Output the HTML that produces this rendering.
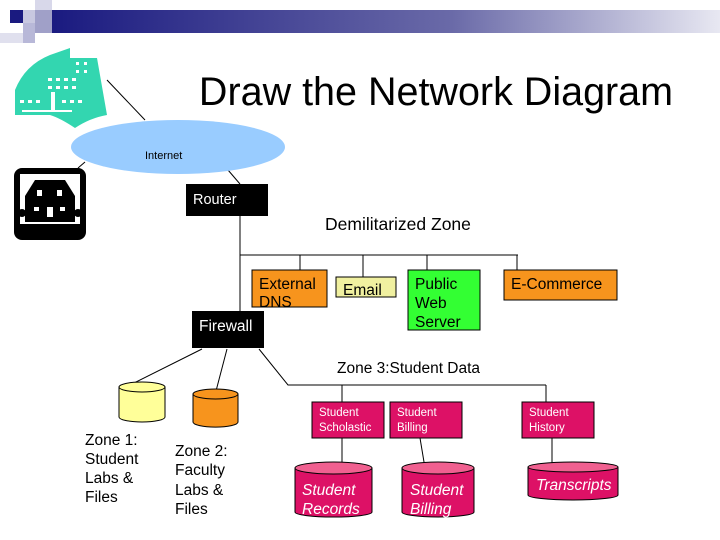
<!DOCTYPE html><html><head><style>body{margin:0;background:#fff}svg{display:block}text{font-family:"Liberation Sans",sans-serif}</style></head><body>
<svg width="720" height="540" viewBox="0 0 720 540">
<defs><linearGradient id="g" x1="0" x2="1"><stop offset="0" stop-color="#1a1a80"/><stop offset="0.6" stop-color="#6a6aa8"/><stop offset="1" stop-color="#e8e8f2"/></linearGradient></defs>
<rect x="50" y="10" width="670" height="23" fill="url(#g)"/>
<rect x="10" y="10" width="13" height="13" fill="#1a1a80"/>
<rect x="23" y="10" width="12" height="13" fill="#c8c8e0"/>
<rect x="35" y="0" width="17" height="10" fill="#d8d8ea"/>
<rect x="35" y="10" width="17" height="23" fill="#a0a0c8"/>
<rect x="23" y="23" width="12" height="20" fill="#b8b8d8"/>
<rect x="0" y="33" width="23" height="10" fill="#e0e0ee"/>
<!-- building -->
<path d="M15,90 Q25,65 50,55 L70,48 L70,58 L97,58 L107,115 Q90,118 75,128 Q60,118 50,115 L15,115 Z" fill="#33d6b0"/>
<g fill="#fff"><rect x="48" y="78" width="4" height="3"/><rect x="56" y="78" width="4" height="3"/><rect x="64" y="78" width="4" height="3"/><rect x="72" y="78" width="4" height="3"/><rect x="48" y="86" width="4" height="3"/><rect x="56" y="86" width="4" height="3"/><rect x="64" y="86" width="4" height="3"/><rect x="72" y="86" width="4" height="3"/><rect x="76" y="62" width="3" height="3"/><rect x="84" y="62" width="3" height="3"/><rect x="76" y="70" width="3" height="3"/><rect x="84" y="70" width="3" height="3"/><rect x="20" y="100" width="4" height="3"/><rect x="28" y="100" width="4" height="3"/><rect x="36" y="100" width="4" height="3"/><rect x="62" y="100" width="4" height="3"/><rect x="70" y="100" width="4" height="3"/><rect x="78" y="100" width="4" height="3"/><rect x="51" y="92" width="4" height="18"/><rect x="22" y="110" width="50" height="2"/></g>
<text x="436" y="105" font-size="39.5" text-anchor="middle">Draw the Network Diagram</text>
<g stroke="#000" stroke-width="1"><line x1="107" y1="80" x2="145" y2="120"/><line x1="85" y1="162" x2="78" y2="168"/><line x1="228" y1="170" x2="240" y2="184"/></g>
<ellipse cx="178" cy="147" rx="107" ry="27" fill="#99ccff"/>
<text x="145" y="159" font-size="11">Internet</text>
<!-- house -->
<rect x="14" y="168" width="72" height="72" rx="8" fill="#000"/>
<rect x="20" y="174" width="60" height="50" fill="#fff"/>
<polygon points="25,196 35,180 65,180 75,196 75,222 25,222" fill="#000"/>
<g fill="#fff"><rect x="37" y="190" width="5" height="6"/><rect x="57" y="190" width="5" height="6"/><rect x="34" y="207" width="5" height="4"/><rect x="60" y="207" width="5" height="4"/><rect x="47" y="207" width="6" height="10"/></g>
<circle cx="22" cy="213" r="4" fill="#000"/><circle cx="78" cy="213" r="4" fill="#000"/>
<rect x="186" y="184" width="82" height="32" fill="#000"/><text x="193" y="204" font-size="14.5" fill="#fff">Router</text>
<text x="325" y="230" font-size="17.5">Demilitarized Zone</text>
<g stroke="#000" fill="none"><polyline points="240,216 240,311"/><line x1="240" y1="255" x2="518" y2="255"/><line x1="300" y1="255" x2="300" y2="270"/><line x1="363" y1="255" x2="363" y2="277"/><line x1="427" y1="255" x2="427" y2="270"/><line x1="517" y1="255" x2="517" y2="270"/>
<line x1="202" y1="349" x2="120" y2="390"/><line x1="227" y1="349" x2="216" y2="391"/><polyline points="259,349 288,385 546,385"/><line x1="342" y1="385" x2="342" y2="402"/><line x1="546" y1="385" x2="546" y2="402"/>
<line x1="342" y1="438" x2="342" y2="468"/><line x1="420" y1="438" x2="425" y2="468"/><line x1="552" y1="438" x2="552" y2="465"/></g>
<rect x="252" y="270" width="75" height="37" fill="#f7941d" stroke="#000"/><text x="259" y="289" font-size="15.5">External</text><text x="259" y="307" font-size="15.5">DNS</text>
<rect x="336" y="277" width="60" height="20" fill="#f0f0a0" stroke="#000"/><text x="343" y="295" font-size="15.5">Email</text>
<rect x="408" y="270" width="72" height="60" fill="#33ff33" stroke="#000"/><text x="415" y="289" font-size="15.5">Public</text><text x="415" y="308" font-size="15.5">Web</text><text x="415" y="327" font-size="15.5">Server</text>
<rect x="504" y="270" width="113" height="30" fill="#f7941d" stroke="#000"/><text x="511" y="289" font-size="15.5">E-Commerce</text>
<rect x="192" y="311" width="72" height="37" fill="#000"/><text x="199" y="331" font-size="15.5" fill="#fff">Firewall</text>
<text x="337" y="373" font-size="15.5">Zone 3:Student Data</text>
<!-- cylinders left -->
<path d="M119,387 v30 a23,5 0 0 0 46,0 v-30" fill="#ffff99" stroke="#000"/><ellipse cx="142" cy="387" rx="23" ry="5" fill="#ffff99" stroke="#000"/>
<path d="M193,394 v28 a22,5 0 0 0 45,0 v-28" fill="#f7941d" stroke="#000"/><ellipse cx="215.5" cy="394" rx="22.5" ry="5" fill="#f7941d" stroke="#000"/>
<g font-size="15.5"><text x="85" y="445">Zone 1:</text><text x="85" y="464">Student</text><text x="85" y="483">Labs &amp;</text><text x="85" y="502">Files</text>
<text x="175" y="456">Zone 2:</text><text x="175" y="475">Faculty</text><text x="175" y="495">Labs &amp;</text><text x="175" y="514">Files</text></g>
<g fill="#dd1166" stroke="#000"><rect x="312" y="402" width="72" height="36"/><rect x="390" y="402" width="72" height="36"/><rect x="522" y="402" width="72" height="36"/>
<path d="M295,468 v44 a38,5 0 0 0 77,0 v-44"/><ellipse cx="333.5" cy="468" rx="38.5" ry="6" fill="#f06090"/>
<path d="M402,468 v44 a36,5 0 0 0 72,0 v-44"/><ellipse cx="438" cy="468" rx="36" ry="6" fill="#f06090"/>
<path d="M528,467 v28 a45,5 0 0 0 90,0 v-28"/><ellipse cx="573" cy="467" rx="45" ry="5" fill="#f06090"/></g>
<g fill="#fff" font-size="11.5"><text x="319" y="416">Student</text><text x="319" y="431">Scholastic</text><text x="397" y="416">Student</text><text x="397" y="431">Billing</text><text x="529" y="416">Student</text><text x="529" y="431">History</text></g>
<g fill="#fff" font-size="15.5" font-style="italic"><text x="302" y="495">Student</text><text x="302" y="514">Records</text><text x="410" y="495">Student</text><text x="410" y="514">Billing</text><text x="536" y="490">Transcripts</text></g>
</svg></body></html>
